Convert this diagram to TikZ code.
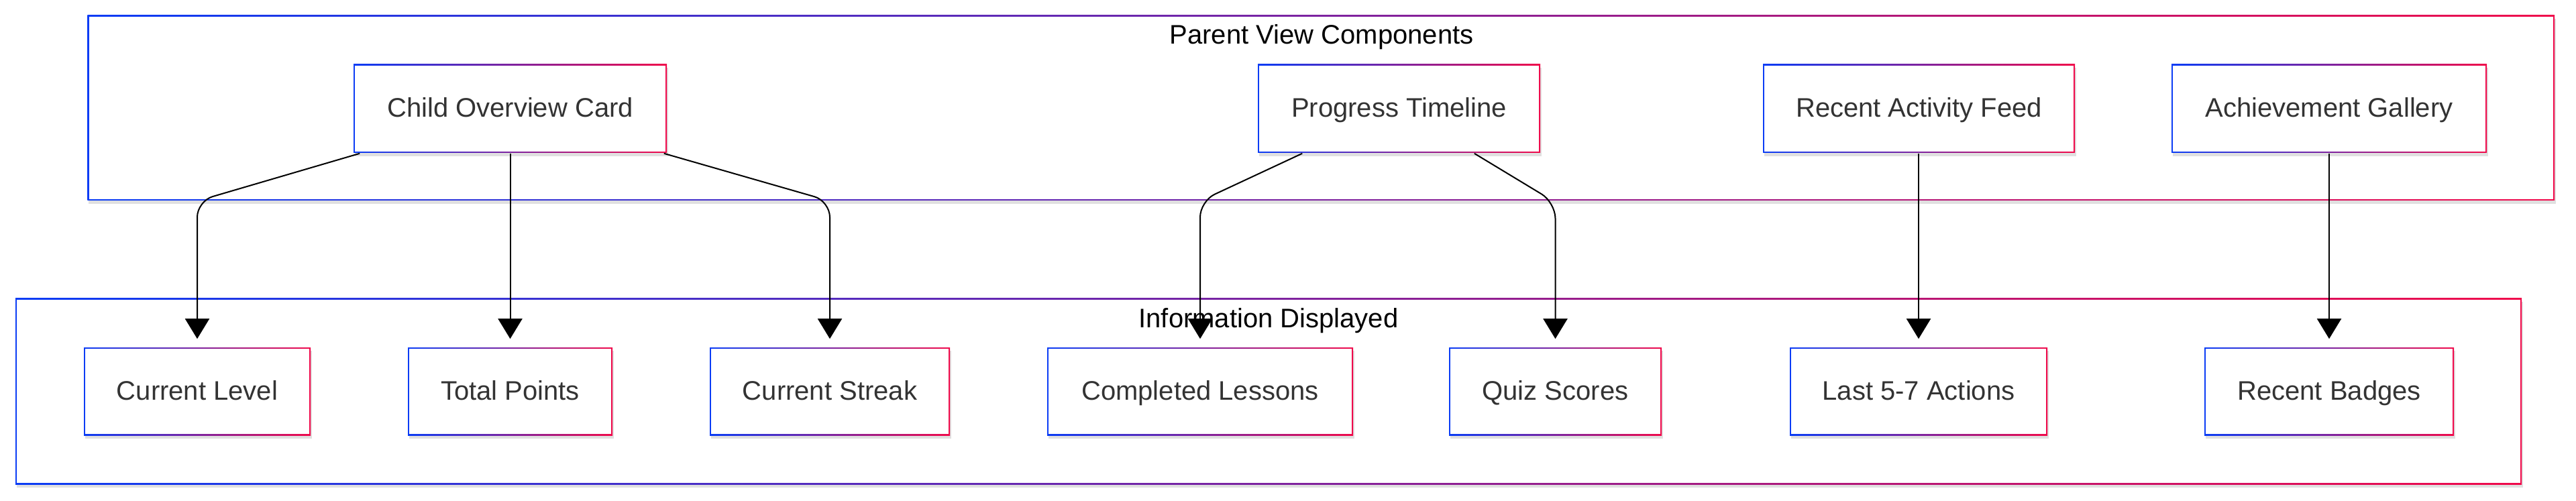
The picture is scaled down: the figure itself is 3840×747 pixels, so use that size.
\documentclass[tikz,border=0pt]{standalone}
\usepackage{fontspec}
\setmainfont{Liberation Sans}
\usetikzlibrary{arrows.meta,shadows,calc}
\definecolor{gblue}{RGB}{10,60,245}
\definecolor{gred}{RGB}{240,10,75}
\definecolor{txt}{RGB}{51,51,51}
\tikzset{
  gframe/.style={fill=white, draw=none, inner sep=0pt,
    drop shadow={shadow xshift=0.4pt, shadow yshift=-1.2pt, opacity=0.12, fill=black},
    path picture={
      \shade[left color=gblue,right color=gred]
        (path picture bounding box.south west) rectangle (path picture bounding box.north east);
      \fill[white] ([shift={(0.6pt,0.6pt)}]path picture bounding box.south west)
        rectangle ([shift={(-0.6pt,-0.6pt)}]path picture bounding box.north east);
    }},
  item/.style={gframe, text=txt, font=\fontsize{10pt}{12pt}\selectfont,
    text height=9pt, text depth=2.5pt},
  topitem/.style={item, minimum height=33pt},
  botitem/.style={item, minimum height=32.75pt},
  ctitle/.style={text=black, font=\fontsize{10pt}{12pt}\selectfont, inner sep=0pt,
    text height=9pt, text depth=2.5pt},
  arr/.style={draw=black, line width=0.5pt, rounded corners=6pt,
    -{Triangle[length=7.5pt,width=9pt]}, shorten >=3pt},
}
\begin{document}
\begin{tikzpicture}[x=0.25pt,y=-0.25pt]
\useasboundingbox (0,0) rectangle (3840,747);
% containers
\node[gframe, minimum width=919.4pt, minimum height=69pt] (top) at (1969.25,161) {};
\node[gframe, minimum width=934pt, minimum height=69.25pt] (bot) at (1891,583.5) {};
\node[ctitle] (toptitle) at (1970,53) {Parent View Components};
\node[ctitle] (bottitle) at (1891,475) {Information Displayed};
% top nodes
\node[topitem, minimum width=116.75pt] (child) at (760.5,162) {Child Overview Card};
\node[topitem, minimum width=105.25pt] (prog) at (2085.5,162) {Progress Timeline};
\node[topitem, minimum width=116.25pt] (raf) at (2860.5,162) {Recent Activity Feed};
\node[topitem, minimum width=117.5pt] (ag) at (3472,162) {Achievement Gallery};
% bottom nodes
\node[botitem, minimum width=84.5pt] (cl) at (294,583.5) {Current Level};
\node[botitem, minimum width=76.25pt] (tp) at (760.5,583.5) {Total Points};
\node[botitem, minimum width=89.5pt] (cs) at (1237,583.5) {Current Streak};
\node[botitem, minimum width=114pt] (cle) at (1789,583.5) {Completed Lessons};
\node[botitem, minimum width=79.25pt] (qs) at (2318.5,583.5) {Quiz Scores};
\node[botitem, minimum width=96pt] (l57) at (2860,583.5) {Last 5-7 Actions};
\node[botitem, minimum width=93pt] (rb) at (3472,583.5) {Recent Badges};
% connectors
\draw[arr] ([xshift=2.5pt]child.south west) -- (cl.north |- top.south) -- (cl.north);
\draw[arr] (child.south -| tp.north) -- (tp.north);
\draw[arr] ([xshift=-1.25pt]child.south east) -- (cs.north |- top.south) -- (cs.north);
\draw[arr] ([xshift=16.75pt]prog.south west) -- (cle.north |- top.south) -- (cle.north);
\draw[arr] ([xshift=-24.75pt]prog.south east) -- ([yshift=-0.5pt]qs.north |- top.south) -- (qs.north);
\draw[arr] (raf.south -| l57.north) -- (l57.north);
\draw[arr] (ag.south -| rb.north) -- (rb.north);
\end{tikzpicture}
\end{document}
